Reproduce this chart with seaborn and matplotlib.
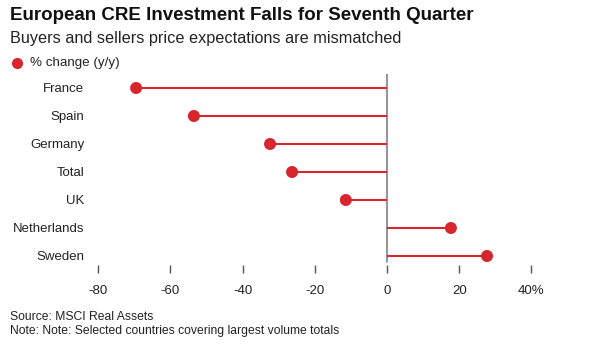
import matplotlib
matplotlib.use("Agg")
import matplotlib.pyplot as plt
import seaborn as sns
import pandas as pd

countries = ["France", "Spain", "Germany", "Total", "UK", "Netherlands", "Sweden"]
pct_change = [-69.5, -53.5, -32.4, -26.3, -11.4, 17.7, 27.7]
x_ticks = [-80, -60, -40, -20, 0, 20, 40]
x_tick_labels = ["-80", "-60", "-40", "-20", "0", "20", "40%"]

red = "#d7262e"

sns.set_theme(style="white")
plt.rcParams["font.family"] = ["Liberation Sans", "DejaVu Sans"]

df = pd.DataFrame({"country": countries, "pct": pct_change})
df["pos"] = range(len(df))

W, H = 591, 348
fig = plt.figure(figsize=(W / 100, H / 100), dpi=100)
ax = fig.add_axes([80 / W, 1 - 273 / H, (560 - 80) / W, (273 - 74) / H])

ax.hlines(df["pos"], 0, df["pct"], color=red, linewidth=1.5, zorder=2)
sns.scatterplot(data=df, x="pct", y="pos", color=red, s=75, edgecolor="none",
                zorder=3, ax=ax, legend=False)
ax.axvline(0, ymin=(273 - 262) / (273 - 74), ymax=1, color="#808080",
           linewidth=1.2, zorder=1)

ax.set_xlim((80 - 387) / 3.61, (560 - 387) / 3.61)
ax.set_ylim(6 + 17 / 28, -0.5)
ax.set_yticks(df["pos"])
ax.set_yticklabels(df["country"])
ax.set_xticks(x_ticks)
ax.set_xticklabels(x_tick_labels)
ax.set_xlabel("")
ax.set_ylabel("")
for s in ax.spines.values():
    s.set_visible(False)
ax.tick_params(axis="y", length=0, pad=-3, labelsize=9.5, labelcolor="#222222")
ax.tick_params(axis="x", direction="in", length=6, width=1, color="#555555",
               pad=9, labelsize=9.5, labelcolor="#222222", bottom=True)

fig.text(10 / W, 1 - 16 / H, "European CRE Investment Falls for Seventh Quarter",
         fontsize=13.5, fontweight="bold", va="center", ha="left", color="#111111")
fig.text(10 / W, 1 - 39 / H, "Buyers and sellers price expectations are mismatched",
         fontsize=11.7, va="center", ha="left", color="#222222")
fig.lines.append(plt.Line2D([17 / W], [1 - 63 / H], marker="o", markersize=7,
                            color=red, linestyle="none", transform=fig.transFigure))
fig.text(30 / W, 1 - 63 / H, "% change (y/y)", fontsize=9.6, va="center",
         ha="left", color="#222222")
fig.text(10 / W, 1 - 317 / H, "Source: MSCI Real Assets", fontsize=8.7,
         va="center", ha="left", color="#222222")
fig.text(10 / W, 1 - 331 / H, "Note: Note: Selected countries covering largest volume totals",
         fontsize=8.7, va="center", ha="left", color="#222222")

fig.savefig("out.png", dpi=100)
